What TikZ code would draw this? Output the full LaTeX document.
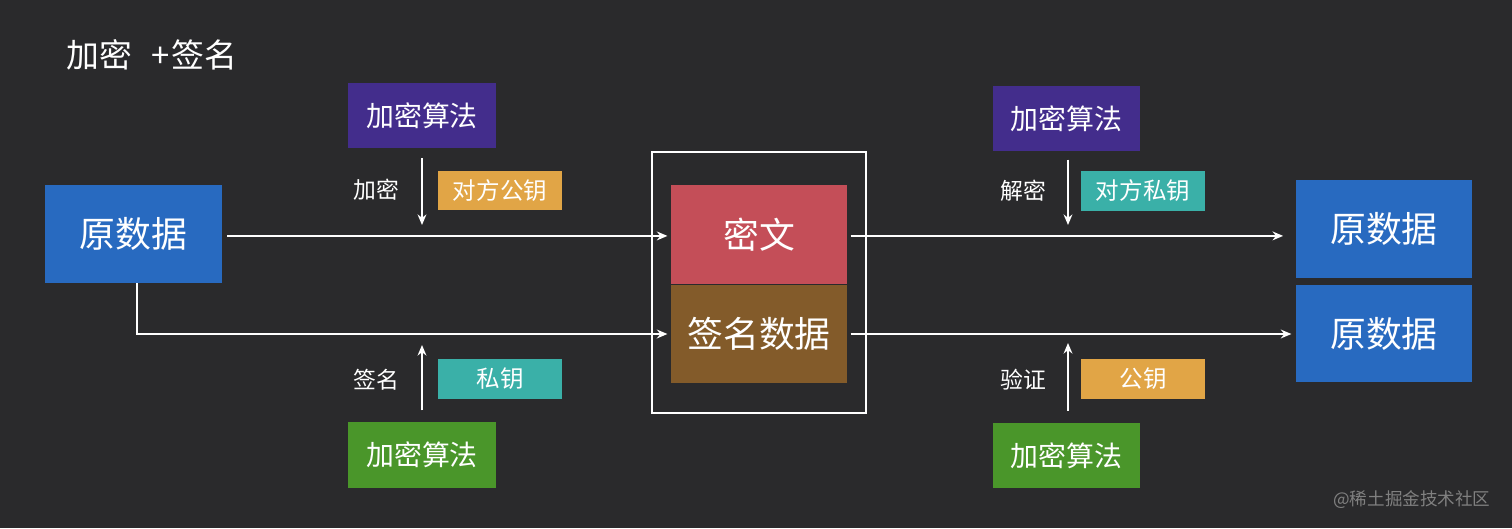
\documentclass[tikz,border=0pt]{standalone}
\usepackage{fontspec}
\setmainfont{Noto Sans CJK SC}
\usetikzlibrary{arrows.meta}
\definecolor{bgc}{RGB}{42,42,44}
\definecolor{bluec}{RGB}{40,106,192}
\definecolor{purplec}{RGB}{67,45,140}
\definecolor{orangec}{RGB}{225,165,70}
\definecolor{tealc}{RGB}{58,176,168}
\definecolor{greenc}{RGB}{74,150,42}
\definecolor{redc}{RGB}{196,78,88}
\definecolor{brownc}{RGB}{131,91,42}
\definecolor{wmc}{RGB}{128,128,128}
\tikzset{
  bigbox/.style={fill=#1, text=white, inner sep=0pt, minimum width=3.53cm, minimum height=1.96cm,
    font=\fontsize{20.4pt}{24pt}\selectfont},
  algbox/.style={fill=#1, text=white, inner sep=0pt, minimum width=2.95cm, minimum height=1.31cm,
    font=\fontsize{15.9pt}{19pt}\selectfont},
  keybox/.style={fill=#1, text=white, inner sep=0pt, minimum width=2.48cm, minimum height=0.79cm,
    font=\fontsize{13.4pt}{16pt}\selectfont},
  lbl/.style={text=white, inner sep=0pt, font=\fontsize{13pt}{16pt}\selectfont},
  conn/.style={draw=white, line width=1.1pt, -{Stealth[length=6pt,width=5pt]}},
}
\begin{document}
\begin{tikzpicture}[x=0.02cm, y=-0.02cm]
\fill[bgc] (0,0) rectangle (1512,528);
\useasboundingbox (0,0) rectangle (1512,528);

\node[anchor=west, text=white, inner sep=0pt, font=\fontsize{18.7pt}{22pt}\selectfont] (title) at (66,55) {加密\hspace{11pt}+\hspace{1pt}签名};

% left side
\node[bigbox=bluec] (orig) at (133.5,234) {原数据};
\node[algbox=purplec] (algL1) at (422,115.5) {加密算法};
\node[keybox=orangec] (keyL1) at (500,190.5) {对方公钥};
\node[lbl] (encL) at (376,190) {加密};
\node[keybox=tealc] (keyL2) at (500,379) {私钥};
\node[lbl] (sigL) at (376,380) {签名};
\node[algbox=greenc] (algL2) at (422,455) {加密算法};
\coordinate (downL) at (422,225);
\coordinate (upL) at (422,345);

% center
\node[draw=white, line width=1.1pt, minimum width=4.28cm, minimum height=5.22cm, inner sep=0pt] (outer) at (759,282.5) {};
\node[bigbox=redc, minimum height=1.98cm] (cipher) at (759,234.5) {密文};
\node[bigbox=brownc] (sign) at (759,334) {签名数据};

% right side
\node[algbox=purplec] (algR1) at (1066.5,118.5) {加密算法};
\node[keybox=tealc] (keyR1) at (1143,191) {对方私钥};
\node[lbl] (decR) at (1023,191) {解密};
\node[keybox=orangec] (keyR2) at (1143,379) {公钥};
\node[lbl] (verR) at (1023,380) {验证};
\node[algbox=greenc] (algR2) at (1066.5,455.5) {加密算法};
\coordinate (downR) at (1068,225);
\coordinate (upR) at (1068,343);
\node[bigbox=bluec] (out1) at (1384,229) {原数据};
\node[bigbox=bluec, minimum height=1.94cm] (out2) at (1384,333.5) {原数据};

% watermark
\node[anchor=west, text=wmc, inner sep=0pt, font=\fontsize{10pt}{12pt}\selectfont] (wm) at (1333,500) {@稀土掘金技术社区};

% connectors
\draw[conn, shorten <=2.8pt, shorten >=1.7pt] ([yshift=-1.1pt]orig.east) -- ([yshift=-1.1pt]orig.east -| cipher.west);
\draw[conn, shorten >=1.7pt] ([xshift=2pt]orig.south) |- (sign.west);
\draw[conn, shorten <=1.7pt, shorten >=7pt] ([yshift=-0.8pt]cipher.east) -- ([yshift=-0.8pt]cipher.east -| out1.west);
\draw[conn, shorten <=1.7pt, shorten >=2.3pt] (sign.east) -- (sign.east -| out2.west);
\draw[conn, shorten <=5.5pt] (algL1.south) -- (downL);
\draw[conn, shorten <=6.5pt] (algL2.north) -- (upL);
\draw[conn, shorten <=4.5pt] (algR1.south -| downR) -- (downR);
\draw[conn, shorten <=6.5pt] (algR2.north -| upR) -- (upR);
\end{tikzpicture}
\end{document}
